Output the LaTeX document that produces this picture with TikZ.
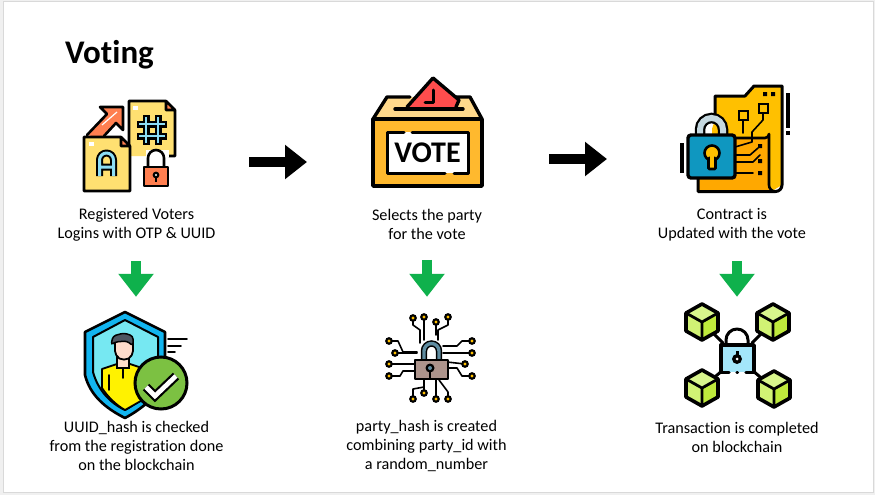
\documentclass[tikz,border=0pt]{standalone}
\usepackage{fontspec}
\usepackage{tikz}
\usepackage{xcolor}
\usetikzlibrary{arrows.meta}
\setmainfont{Carlito}[Ligatures=NoCommon]
\definecolor{docyellow}{HTML}{FFE071}
\definecolor{lockorange}{HTML}{FF7F50}
\definecolor{hashblue}{HTML}{8CDDF5}
\definecolor{boxorange}{HTML}{FFB92E}
\definecolor{boxlight}{HTML}{FFD98C}
\definecolor{ballotred}{HTML}{FF4D4D}
\definecolor{boardyellow}{HTML}{FFC000}
\definecolor{boardshade}{HTML}{FFA800}
\definecolor{lockblue}{HTML}{0F97C0}
\definecolor{shieldblue}{HTML}{12B5F0}
\definecolor{shieldpale}{HTML}{76E8F2}
\definecolor{checkgreen}{HTML}{7CC142}
\definecolor{skintone}{HTML}{FFDCCB}
\definecolor{hairgrey}{HTML}{4D5560}
\definecolor{padbrown}{HTML}{AD948C}
\definecolor{shacklegrey}{HTML}{5F8CA0}
\definecolor{shacklepale}{HTML}{C5D8E0}
\definecolor{cubelight}{HTML}{D8F58C}
\definecolor{cubegreen}{HTML}{BFEA3C}
\definecolor{padblue}{HTML}{A3E6FA}
\definecolor{arrowgreen}{HTML}{0FB14C}
\tikzset{
  caption/.style={align=center,font=\fontsize{16.2}{19}\selectfont,inner sep=0pt},
  iconbox/.style={minimum width=#1,minimum height=#1,inner sep=0pt},
  outline/.style={draw=black,line width=2.6pt,line join=round,line cap=round},
  thinline/.style={draw=black,line width=1.6pt,line join=round,line cap=round},
  blackarrow/.style={line width=10pt,-{Triangle[length=22pt,width=33pt]}},
  greenarrow/.style={draw=arrowgreen,line width=10pt,-{Triangle[length=23pt,width=34pt]},shorten <=20pt,shorten >=20pt}
}
\newcommand{\chipdot}[2]{%
  \fill[black] (#1,#2) circle (3.9);
  \fill[boardyellow] (#1,#2) circle (1.6);
}
\newcommand{\cube}[1]{%
  \begin{scope}[shift={#1}]
    \fill[cubegreen] (0,-18) -- (16,-9) -- (16,9) -- (0,18) -- (-16,9) -- (-16,-9) -- cycle;
    \fill[cubelight] (0,-18) -- (16,-9) -- (0,0) -- (-16,-9) -- cycle;
    \fill[cubelight!70!cubegreen] (-16,-9) -- (0,0) -- (0,18) -- (-16,9) -- cycle;
    \draw[outline,line width=3.6pt] (0,-18) -- (16,-9) -- (16,9) -- (0,18) -- (-16,9) -- (-16,-9) -- cycle;
    \draw[outline,line width=2.8pt] (-16,-9) -- (0,0) -- (16,-9) (0,0) -- (0,18);
  \end{scope}
}
\begin{document}
\begin{tikzpicture}[x=1pt,y=-1pt]
  \useasboundingbox (0,0) rectangle (875,495);
  \fill[black!6] (0,0) rectangle (875,495);
  \fill[white,draw=black!15,line width=1pt] (3,2) rectangle (873,492);

  \node[anchor=west,inner sep=0pt,font=\fontsize{33}{36}\selectfont\bfseries] (title) at (65,55) {Voting};

  % top row
  \node[iconbox=116] (regicon) at (127,135) {};
  \node[iconbox=116] (voteicon) at (427,135) {};
  \node[iconbox=116] (contracticon) at (736,135) {};
  \node[caption] (regtext) at (136.5,224.5) {Registered Voters\\Logins with OTP \& UUID};
  \node[caption] (votetext) at (427,224.5) {Selects the party\\for the vote};
  \node[caption] (contracttext) at (732,224.5) {Contract is\\Updated with the vote};

  % bottom row
  \node[iconbox=76] (shieldicon) at (136,355) {};
  \node[iconbox=76] (hashicon) at (427,355) {};
  \node[iconbox=76] (chainicon) at (737,355) {};
  \node[caption] (shieldtext) at (136.5,446) {UUID\_hash is checked\\from the registration done\\on the blockchain};
  \node[caption] (hashtext) at (426.5,446) {party\_hash is created\\combining party\_id with\\a random\_number};
  \node[caption] (chaintext) at (737,437) {Transaction is completed\\on blockchain};

  % documents
  \fill[lockorange] (87,135) -- (107,114) -- (100,107) -- (123,107) -- (123,130) -- (116,123) -- (102,138) -- cycle;
  \draw[outline] (87,135) -- (107,114) -- (100,107) -- (123,107) -- (123,130) -- (116,123) -- (104,136);
  \draw[white,line width=1.2pt] (102,125) -- (117,112);
  \fill[docyellow] (129,101) -- (166,101) -- (175,110) -- (175,156) -- (129,156) -- cycle;
  \fill[lockorange] (166,103) -- (173,110) -- (166,110) -- cycle;
  \draw[outline] (129,156) -- (129,101) -- (166,101) -- (175,110) -- (175,156) -- (169,156) (166,101) -- (166,110) -- (175,110);
  \fill[white] (133,106) rectangle (138,110);
  \draw[black,line width=7pt] (146,115) -- (146,145) (158,115) -- (158,145) (137,124) -- (167,124) (137,136) -- (167,136);
  \draw[hashblue,line width=2.6pt] (146,117) -- (146,143) (158,117) -- (158,143) (139,124) -- (165,124) (139,136) -- (165,136);
  \fill[docyellow] (84,137) -- (121,137) -- (130,146) -- (130,191) -- (84,191) -- cycle;
  \fill[lockorange] (122,139) -- (128,146) -- (122,146) -- cycle;
  \draw[outline] (84,137) -- (121,137) -- (130,146) -- (130,191) -- (84,191) -- cycle (121,137) -- (121,146) -- (130,146);
  \fill[white] (89,142) rectangle (94,146);
  \draw[black,line width=7pt,line join=round] (99.5,176) -- (99.5,160) arc (180:360:7) -- (113.5,176) (99.5,167) -- (113.5,167);
  \draw[hashblue,line width=3pt,line join=round] (99.5,176) -- (99.5,160) arc (180:360:7) -- (113.5,176) (99.5,167) -- (113.5,167);
  \fill[white] (146,150) rectangle (169,156.6);
  \draw[outline] (148,168) -- (148,158) arc (180:360:8) -- (164,168);
  \fill[lockorange,draw=black,line width=2.6pt,line join=round] (144,167) rectangle (168,186);
  \fill[black] (156,175) circle (3.4);
  \fill[black] (154.8,175) rectangle (157.2,182);
  \fill[white] (156,175) circle (1.2);

  % ballot box
  \fill[boxlight] (387,97) -- (470,97) -- (482,119) -- (373,119) -- cycle;
  \draw[outline,line width=3.4pt] (373,119) -- (387,97) -- (410,97) (455,97) -- (470,97) -- (482,119);
  \fill[ballotred] (406,108) -- (433,78) -- (459,100) -- (455,108) -- cycle;
  \draw[outline,line width=3.4pt] (407,107) -- (433,78) -- (459,100) -- (456,107);
  \draw[outline,line width=3pt] (433,90) -- (433,102) -- (425,102);
  \draw[outline,line width=3.4pt] (395,109) -- (463,109);
  \fill[boxorange,draw=black,line width=3.8pt,line join=round] (373,119) rectangle (482,186);
  \fill[white] (387,132) rectangle (468,173);
  \draw[outline,line width=3pt] (404,132) -- (387,132) -- (387,173) -- (445,173) (454,173) -- (468,173) -- (468,132) -- (412,132);
  \node[inner sep=0pt,font=\fontsize{30}{32}\selectfont\bfseries] (votelabel) at (427.5,152.5) {VOTE};

  % contract
  \fill[boardyellow] (715,120) -- (715,96) -- (745,96) -- (754,86) -- (782,86) -- (782,185) -- (772,191) -- (698,191) -- (698,170) -- cycle;
  \fill[boardshade] (733,138) -- (769,138) -- (769,190) -- (698,190) -- (698,178) -- (733,178) -- cycle;
  \draw[outline,line width=3pt] (715,120) -- (715,96) -- (745,96) -- (754,86) -- (782,86) -- (782,185) arc (0:90:6.5) -- (698,191.5) -- (698,178);
  \draw[outline] (733,138) -- (765,138) arc (90:0:4) -- (769,185) arc (180:90:6.5);
  \draw[thinline] (743,115) -- (743,133) (763,108) -- (763,120) -- (752,132) -- (752,142) -- (735,147);
  \draw[thinline] (735,155) -- (750,155) -- (758,148) (735,162) -- (753,162) -- (760,155) (735,173) -- (753,173);
  \fill[boardyellow,draw=black,line width=2pt] (738.5,110.5) rectangle (748,120);
  \fill[boardyellow,draw=black,line width=2pt] (758.5,103.5) rectangle (768,113);
  \fill[black] (763,92) rectangle (767,96) (771,92) rectangle (775,96) (758,144) rectangle (762,148) (758,159) rectangle (762,163) (758,171) rectangle (762,175);
  \draw[black,line width=3.4pt] (788,93) -- (788,128) (788,131) -- (788,135) (682,143) -- (682,173);
  \fill[white] (703,118) rectangle (712,136);
  \draw[black,line width=10.5pt] (700,136) -- (700,129.5) arc (180:360:11.5) -- (723,136);
  \draw[shacklepale,line width=6pt] (700,136) -- (700,129.5) arc (180:360:11.5) -- (723,136);
  \fill[lockblue,draw=black,line width=3.4pt,rounded corners=3pt] (688,135) rectangle (735,178);
  \fill[boardyellow,draw=black,line width=2.6pt] (712,153) circle (7.5);
  \fill[boardyellow,draw=black,line width=2.6pt,rounded corners=1pt] (708.5,158) rectangle (715.5,169);
  \fill[boardyellow] (710,156) rectangle (714,164);

  % shield and person
  \fill[shieldblue] (125,312) -- (165,332) -- (165,378) .. controls (160,395) and (140,410) .. (125,418) .. controls (105,408) and (90,395) .. (85,375) -- (85,332) -- cycle;
  \fill[shieldpale] (125,320) -- (158,337) -- (158,375) .. controls (150,392) and (138,403) .. (125,410) .. controls (110,403) and (98,390) .. (93,372) -- (93,337) -- cycle;
  \draw[outline] (125,312) -- (165,332) -- (165,378) .. controls (160,395) and (140,410) .. (125,418) .. controls (105,408) and (90,395) .. (85,375) -- (85,332) -- cycle;
  \draw[outline,line width=2pt] (125,320) -- (158,337) -- (158,375) .. controls (150,392) and (138,403) .. (125,410) .. controls (110,403) and (98,390) .. (93,372) -- (93,337) -- cycle;
  \fill[yellow,draw=black,line width=1.8pt,line join=round] (102,373) -- (102,369) -- (117,364) -- (130,364) -- (142,368) -- (146,398) -- (125,410) .. controls (116,405) and (108,397) .. (102,388) -- cycle;
  \fill[skintone,draw=black,line width=1.8pt] (117,352) rectangle (129,368);
  \fill[skintone,draw=black,line width=1.8pt,rounded corners=5pt] (115,338) -- (133,338) -- (133,356) -- (124,361) -- (115,356) -- cycle;
  \fill[hairgrey,draw=black,line width=1.5pt,rounded corners=3pt] (111,345) -- (113,336) -- (124,333) -- (133,336) -- (133,346) -- (127,341) -- (115,342) -- cycle;
  \draw[thinline] (123,369) -- (123,378) (109,375) -- (109,390);
  \draw[thinline] (168,339) -- (187,339) (168,346) -- (181,346) (168,352) -- (175,352);
  \fill[checkgreen,draw=black,line width=3pt] (161,383) circle (26);
  \draw[black,line width=9pt,line join=miter] (146,387) -- (155,396) -- (176,376);
  \draw[white,line width=4.6pt,line join=miter] (146,387) -- (155,396) -- (176,376);

  % chip lock
  \draw[thinline] (413,318) -- (413,325) -- (420,330) -- (420,343) (424,317) -- (424,340) (436,322) -- (436,335) (448,317) -- (448,325) -- (438,330) -- (438,340);
  \draw[thinline] (389,341) -- (398,341) -- (403,352) -- (417,352) (395,353) -- (417,353) (389,364) -- (415,364) (389,376) -- (400,376) -- (403,371) -- (415,371);
  \draw[thinline] (472,341) -- (462,341) -- (457,346) -- (443,346) (472,353) -- (443,353) (465,364) -- (447,362) (472,376) -- (462,376) -- (457,368) -- (447,368);
  \draw[thinline] (413,399) -- (413,389) -- (424,387) -- (424,378) (424,393) -- (424,378) (436,399) -- (436,378) (448,399) -- (448,392) -- (439,380);
  \foreach \dotx/\doty in {413/318,424/317,436/322,448/317,389/341,395/353,389/364,389/376,472/341,472/353,465/364,472/376,413/399,424/393,436/399,448/399}{
    \chipdot{\dotx}{\doty}
  }
  \draw[black,line width=6.4pt] (424,361) -- (424,351) arc (180:360:7.5) -- (439,361);
  \draw[shacklegrey,line width=3.4pt] (424,361) -- (424,351) arc (180:360:7.5) -- (439,361);
  \fill[padbrown,draw=black,line width=2pt,line join=round] (415,360) rectangle (448,379);
  \fill[black] (430,368) circle (4.5);
  \fill[black] (429,368) rectangle (431,379);
  \fill[shacklegrey] (430,368) circle (2);

  % blockchain lock
  \draw[outline,line width=3pt] (702,322) -- (723,343) (773,322) -- (752,343) (702,388) -- (723,370) (774,389) -- (752,370);
  \cube{(702,322)}
  \cube{(773,322)}
  \cube{(702,388)}
  \cube{(774,389)}
  \draw[outline,line width=3pt] (726,345) -- (726,340) arc (180:360:11) -- (748,345);
  \fill[padblue] (721,345) rectangle (754,372);
  \draw[outline,line width=3.4pt] (729,372.5) -- (721,372.5) -- (721,345) -- (754,345) -- (754,372.5) -- (746,372.5) (737,372.5) -- (737.5,372.5);
  \fill[black] (737,359) circle (5);
  \fill[black] (735.5,351) rectangle (738.5,358);
  \fill[white] (737,359) circle (1.5);

  % arrows between the steps
  \coordinate (arrowAstart) at (249,162);
  \coordinate (arrowAend) at (307,162);
  \coordinate (arrowBstart) at (549,159);
  \coordinate (arrowBend) at (607,159);
  \draw[blackarrow] (arrowAstart) -- (arrowAend);
  \draw[blackarrow] (arrowBstart) -- (arrowBend);

  % arrows down
  \draw[greenarrow] (shieldicon |- regtext.south) -- (shieldicon.north);
  \draw[greenarrow] (hashicon |- votetext.south) -- (hashicon.north);
  \draw[greenarrow] (chainicon |- contracttext.south) -- (chainicon.north);
\end{tikzpicture}
\end{document}
